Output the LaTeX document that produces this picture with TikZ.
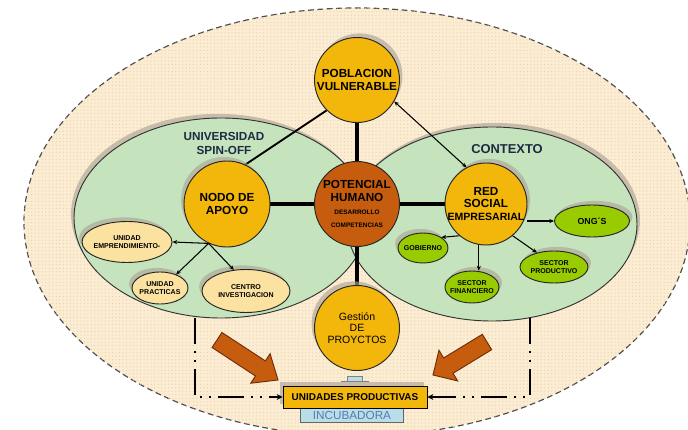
\documentclass[tikz,border=0pt]{standalone}
\usepackage{fontspec}
\setmainfont{Liberation Sans}
\usetikzlibrary{shapes.geometric,shadows,arrows.meta,patterns,backgrounds,calc}

\definecolor{beige}{RGB}{252,236,210}
\definecolor{puntos}{RGB}{228,208,178}
\definecolor{verdeclaro}{RGB}{197,228,190}
\definecolor{oro}{RGB}{243,182,10}
\definecolor{cafe}{RGB}{198,92,14}
\definecolor{cafeosc}{RGB}{110,45,10}
\definecolor{lima}{RGB}{153,204,0}
\definecolor{crema}{RGB}{251,226,160}
\definecolor{celeste}{RGB}{185,222,232}
\definecolor{sombra}{RGB}{172,165,150}
\definecolor{tinta}{RGB}{28,42,66}
\definecolor{azul}{RGB}{80,125,180}

\begin{document}
\begin{tikzpicture}[x=0.03cm, y=-0.03cm,
    sombraI/.style={drop shadow={shadow xshift=-2.5pt, shadow yshift=3.5pt, fill=sombra, opacity=.65}},
    sombraD/.style={drop shadow={shadow xshift=2.5pt, shadow yshift=3.5pt, fill=sombra, opacity=.65}},
    exterior/.style={draw=black!70, line width=1pt, dash pattern=on 5pt off 3pt, fill=beige,
        postaction={pattern=dots, pattern color=puntos}},
    zona/.style={ellipse, draw=black!80, thick, fill=verdeclaro, inner sep=0pt},
    circulo/.style={circle, draw=black!85, thick, fill=oro, inner sep=-2pt, align=center,
        font=\bfseries\fontsize{10}{11}\selectfont},
    burbuja/.style={ellipse, draw=black!85, thick, inner sep=-4pt, align=center,
        font=\bfseries\fontsize{6}{7}\selectfont},
    titulo/.style={text=tinta, align=center, font=\bfseries\fontsize{10}{12}\selectfont},
    enlace/.style={line width=3.5pt},
    flecha/.style={-{Stealth[length=4pt,width=3.5pt]}, line width=0.9pt},
    doble/.style={{Stealth[length=4pt,width=3.5pt]}-{Stealth[length=4pt,width=3.5pt]}, line width=0.9pt},
    punteada/.style={line width=2pt, dash pattern=on 22pt off 6pt on 1.8pt off 6pt on 1.8pt off 6pt,
        -{Stealth[length=5pt,width=5pt]}},
    bloque/.style={fill=cafe, draw=cafeosc, thick, line join=miter}]

  \useasboundingbox (0,0) rectangle (688,430);

  % fondo y zonas
  \begin{scope}[on background layer]
    \draw[exterior] (357,222) ellipse [x radius=9.99cm, y radius=6.42cm];
    \node at (221,218) (univ) [zona, sombraI, minimum width=8.82cm, minimum height=6cm] {};
    \node at (492,224) (ctx) [zona, sombraD, minimum width=8.7cm, minimum height=5.82cm] {};
  \end{scope}

  \node at (224,143) (titU) [titulo] {UNIVERSIDAD\\SPIN-OFF};
  \node at (507,149) (titC) [titulo, font=\bfseries\fontsize{11}{12}\selectfont] {CONTEXTO};

  % nodos principales
  \node at (357,80) (pob) [circulo, sombraD, minimum size=2.55cm] {POBLACION\\VULNERABLE};
  \node at (357,204) (pot) [circulo, fill=cafe, minimum size=2.55cm]
      {POTENCIAL\\HUMANO\\{\fontsize{5.5}{6.5}\selectfont DESARROLLO}\\{\fontsize{5.5}{6.5}\selectfont COMPETENCIAS}};
  \node at (227,204) (nodo) [circulo, sombraI, minimum size=2.58cm] {NODO DE\\APOYO};
  \node at (486,204) (red) [circulo, sombraD, minimum size=2.46cm]
      {RED\\SOCIAL\\{\fontsize{9}{10}\selectfont EMPRESARIAL}};
  \node at (357,328) (gest) [circulo, sombraI, minimum size=2.55cm, font=\fontsize{9}{10}\selectfont]
      {Gestión\\DE\\PROYCTOS};

  % universidad
  \node at (127,242) (emp) [burbuja, fill=crema, sombraI, minimum width=2.7cm, minimum height=1.23cm] {UNIDAD\\EMPRENDIMIENTO-};
  \node at (160,288) (prac) [burbuja, fill=crema, sombraI, minimum width=1.68cm, minimum height=0.96cm] {UNIDAD\\PRACTICAS};
  \node at (246,291) (cent) [burbuja, fill=crema, sombraI, minimum width=2.64cm, minimum height=1.29cm] {CENTRO\\INVESTIGACION};

  % contexto
  \node at (592,221) (ong) [burbuja, fill=lima, sombraD, minimum width=2.25cm, minimum height=0.96cm,
      font=\bfseries\fontsize{7.5}{8}\selectfont] {ONG´S};
  \node at (423,248) (gob) [burbuja, fill=lima, sombraI, minimum width=1.5cm, minimum height=0.9cm] {GOBIERNO};
  \node at (472,287) (fin) [burbuja, fill=lima, sombraD, minimum width=1.62cm, minimum height=0.96cm] {SECTOR\\FINANCIERO};
  \node at (554,267) (prod) [burbuja, fill=lima, sombraD, minimum width=2.04cm, minimum height=0.96cm] {SECTOR\\PRODUCTIVO};

  % enlaces gruesos
  \begin{scope}[on background layer]
    \draw[enlace] (pob) -- (pot);
    \draw[enlace] (pot) -- (gest);
    \draw[enlace] (nodo) -- (pot);
    \draw[enlace] (pot) -- (red);
    \draw[line width=1.6pt] (pob.225) -- (nodo.65);
  \end{scope}

  \draw[doble] (pob.330) -- (red.118);

  \coordinate (nb) at (nodo.245);
  \draw[flecha] (nb) -- (emp.east);
  \draw[flecha] (nb) -- (prac.40);
  \draw[flecha] (nb) -- (cent.120);

  \draw[flecha] (red.east |- ong.west) -- (ong.west);
  \draw[flecha] (red.230) -- (gob.30);
  \draw[flecha] (red.260) -- (red.260 |- fin.north);
  \draw[flecha] (red.-50) -- (prod.140);

  % incubadora
  \node at (352,415) (incu) [rectangle, draw=black!60, fill=celeste, minimum width=3.09cm, minimum height=0.45cm,
      inner sep=0pt, text=azul, font=\fontsize{10}{10}\selectfont] {INCUBADORA};
  \node at (355,397) (unid) [rectangle, draw=black, thick, fill=oro, sombraI, minimum width=4.32cm, minimum height=0.66cm,
      inner sep=0pt, font=\bfseries\fontsize{8.5}{9}\selectfont] {UNIDADES PRODUCTIVAS};
  \node at (355,379) (enchufe) [rectangle, draw=black!50, fill=celeste, minimum width=0.45cm, minimum height=0.15cm, inner sep=0pt] {};
  \draw[black!50, thick] ([xshift=-0.18cm]enchufe.south west) -- ([xshift=0.18cm]enchufe.south east);

  \coordinate (bajoI) at (195,318);
  \coordinate (bajoD) at (530,318);
  \draw[punteada] (bajoI) |- (unid.west);
  \draw[punteada] (bajoD) |- (unid.east);

  % flechas de bloque
  \coordinate (colaI) at (217,340);
  \coordinate (puntaI) at (278,380);
  \coordinate (baseI) at ($(colaI)!0.712!(puntaI)$);
  \draw[bloque] ($(colaI)!0.123!90:(puntaI)$) -- ($(baseI)!0.43!90:(puntaI)$) -- ($(baseI)!0.84!90:(puntaI)$)
      -- (puntaI) -- ($(baseI)!0.84!-90:(puntaI)$) -- ($(baseI)!0.43!-90:(puntaI)$) -- ($(colaI)!0.123!-90:(puntaI)$) -- cycle;
  \coordinate (colaD) at (487,342);
  \coordinate (puntaD) at (433,375);
  \coordinate (baseD) at ($(colaD)!0.716!(puntaD)$);
  \draw[bloque] ($(colaD)!0.142!90:(puntaD)$) -- ($(baseD)!0.5!90:(puntaD)$) -- ($(baseD)!1!90:(puntaD)$)
      -- (puntaD) -- ($(baseD)!1!-90:(puntaD)$) -- ($(baseD)!0.5!-90:(puntaD)$) -- ($(colaD)!0.142!-90:(puntaD)$) -- cycle;
\end{tikzpicture}
\end{document}
